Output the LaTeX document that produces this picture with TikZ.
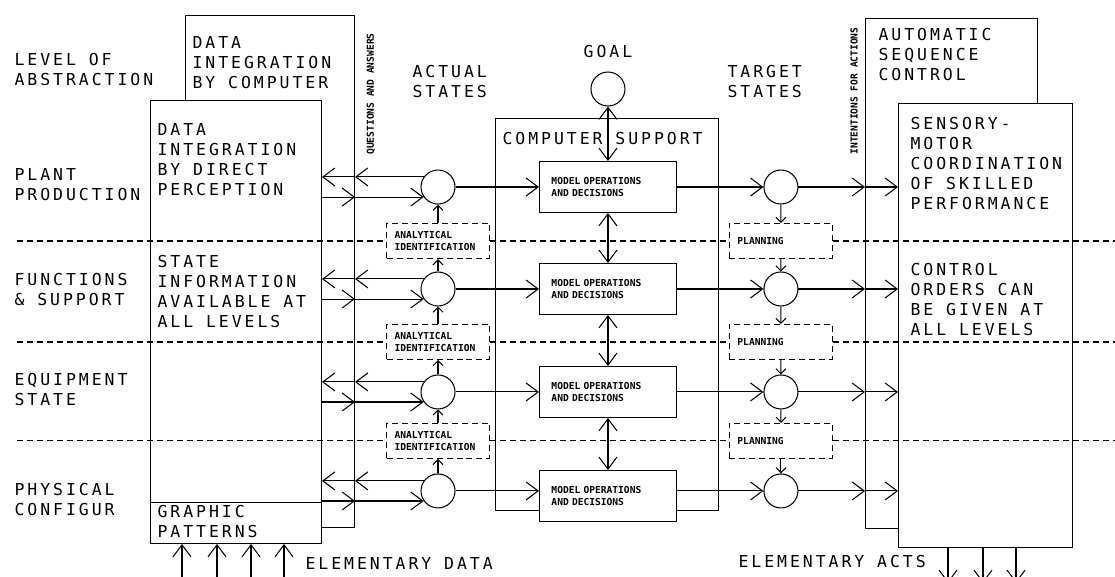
\documentclass[tikz,border=0pt]{standalone}
\usepackage{fontspec}
\usepackage{tikz}
\usetikzlibrary{arrows.meta,positioning}
\newfontfamily\plotfont[LetterSpace=18]{DejaVu Sans Mono}
\newfontfamily\tinyfont{DejaVu Sans Mono}
\newcommand\bigtxt{\plotfont\fontsize{9.37pt}{11.38pt}\selectfont}
\newcommand\smalltxt{\tinyfont\bfseries\fontsize{5.46pt}{6.5pt}\selectfont}
\tikzset{
bigbox/.style = {draw, rectangle, anchor=north west, inner sep=0pt},
statenode/.style = {draw, fill=white, circle, minimum size=0.68cm, inner sep=0pt},
model/.style = {draw, fill=white, rectangle, minimum height=1.02cm, text width=2.26cm, inner xsep=0.24cm, align=left, font=\smalltxt},
aux/.style = {draw, fill=white, rectangle, levelline, minimum height=0.7cm, text width=1.74cm, inner xsep=0.16cm, align=left, font=\smalltxt},
txt/.style = {anchor=north west, inner sep=0pt, align=left, font=\bigtxt},
levelline/.style = {dash pattern=on 0.12cm off 0.08cm},
smallarrow/.style = {-{Straight Barb[length=0.1cm,width=0.2cm]}}
}

\begin{document}
\begin{tikzpicture}[auto, x=0.02cm, y=0.02cm, >={Straight Barb[length=0.24cm,width=0.36cm]}, line width=0.6pt]
  \useasboundingbox (0,0) rectangle (1115,576);
  \clip (0,0) rectangle (1115,576);

  % big frames
  \node [bigbox, minimum width=3.38cm, minimum height=10.24cm]             (comp)  at (185,561) {};
  \node [bigbox, fill=white, minimum width=3.42cm, minimum height=8.86cm]  (perc)  at (150,476) {};
  \node [bigbox, anchor=south west, minimum width=3.42cm, minimum height=0.82cm] (gpat) at (perc.south west) {};
  \node [bigbox, minimum width=3.44cm, minimum height=10.2cm]              (asc)   at (865,558) {};
  \node [bigbox, fill=white, minimum width=3.48cm, minimum height=8.88cm]  (sens)  at (898,473) {};
  \node [bigbox, minimum width=4.46cm, minimum height=7.84cm]              (csup)  at (495,458) {};

  % actual states
  \node [statenode]                                  (act1) at (438,389) {};
  \node [aux, below of=act1, node distance=1.08cm]   (ana1) {ANALYTICAL\\IDENTIFICATION};
  \node [statenode, below of=ana1, node distance=0.96cm] (act2) {};
  \node [aux, below of=act2, node distance=1.06cm]   (ana2) {ANALYTICAL\\IDENTIFICATION};
  \node [statenode, below of=ana2, node distance=1cm]    (act3) {};
  \node [aux, below of=act3, node distance=0.98cm]   (ana3) {ANALYTICAL\\IDENTIFICATION};
  \node [statenode, below of=ana3, node distance=1cm]    (act4) {};

  % computer support
  \node [model, right of=act1, node distance=3.4cm]  (mod1) {MODEL OPERATIONS\\AND DECISIONS};
  \node [model, right of=act2, node distance=3.4cm]  (mod2) {MODEL OPERATIONS\\AND DECISIONS};
  \node [model, right of=act3, node distance=3.4cm]  (mod3) {MODEL OPERATIONS\\AND DECISIONS};
  \node [model, right of=act4, node distance=3.4cm, yshift=-0.1cm] (mod4) {MODEL OPERATIONS\\AND DECISIONS};
  \node [statenode, above of=mod1, node distance=1.96cm] (goal) {};
  \node [above of=goal, node distance=0.76cm, font=\bigtxt] (goaltxt) {GOAL};

  % target states
  \node [statenode, right of=mod1, node distance=3.46cm] (tgt1) {};
  \node [statenode, right of=mod2, node distance=3.46cm] (tgt2) {};
  \node [statenode, right of=mod3, node distance=3.46cm] (tgt3) {};
  \node [statenode, right of=act4, node distance=6.86cm] (tgt4) {};
  \node [aux, right of=ana1, node distance=6.86cm]   (pln1) {PLANNING};
  \node [aux, right of=ana2, node distance=6.86cm]   (pln2) {PLANNING};
  \node [aux, right of=ana3, node distance=6.86cm]   (pln3) {PLANNING};

  % texts
  \node [txt] (lvltxt)   at (14,523)  {LEVEL OF\\ABSTRACTION};
  \node [txt] (planttxt) at (14,408)  {PLANT\\PRODUCTION};
  \node [txt] (functxt)  at (14,303)  {FUNCTIONS\\\& SUPPORT};
  \node [txt] (equiptxt) at (14,203)  {EQUIPMENT\\STATE};
  \node [txt] (phystxt)  at (14,93)   {PHYSICAL\\CONFIGUR};
  \node [txt] (comptxt)  at (192,540) {DATA\\INTEGRATION\\BY COMPUTER};
  \node [txt] (perctxt)  at (157,453) {DATA\\INTEGRATION\\BY DIRECT\\PERCEPTION};
  \node [txt] (infotxt)  at (157,321) {STATE\\INFORMATION\\AVAILABLE AT\\ALL LEVELS};
  \node [txt] (gpattxt)  at (157,71)  {GRAPHIC\\PATTERNS};
  \node [txt] (eldata)   at (305,19)  {ELEMENTARY DATA};
  \node [txt] (acttxt)   at (412,511) {ACTUAL\\STATES};
  \node [txt] (csuptxt)  at (502,444) {COMPUTER SUPPORT};
  \node [txt] (tgttxt)   at (727,511) {TARGET\\STATES};
  \node [txt] (asctxt)   at (878,548) {AUTOMATIC\\SEQUENCE\\CONTROL};
  \node [txt] (senstxt)  at (910,459) {SENSORY-\\MOTOR\\COORDINATION\\OF SKILLED\\PERFORMANCE};
  \node [txt] (ctrltxt)  at (910,313) {CONTROL\\ORDERS CAN\\BE GIVEN AT\\ALL LEVELS};
  \node [txt] (elacts)   at (738,21)  {ELEMENTARY ACTS};
  \node [rotate=90, font=\smalltxt] (qatxt)  at (371,482) {QUESTIONS AND ANSWERS};
  \node [rotate=90, font=\smalltxt] (inttxt) at (854,485) {INTENTIONS FOR ACTIONS};

  % level lines
  \coordinate (lft) at (17,0);
  \coordinate (rgt) at (1115,0);
  \draw [levelline] (lft |- ana1) -- (ana1);
  \draw [levelline] (ana1) -- (pln1);
  \draw [levelline] (pln1) -- (rgt |- pln1);
  \draw [levelline] (lft |- ana2) -- (ana2);
  \draw [levelline] (ana2) -- (pln2);
  \draw [levelline] (pln2) -- (rgt |- pln2);
  \draw [levelline] (lft |- ana3) -- (ana3);
  \draw [levelline] (ana3) -- (pln3);
  \draw [levelline] (pln3) -- (rgt |- pln3);

  % questions and answers
  \draw [->] (act1.145) -- (comp.east |- act1.145);
  \draw [->] (comp.east |- act1.145) -- (perc.east |- act1.145);
  \draw [->] (perc.east |- act1.215) -- (comp.east |- act1.215);
  \draw [->] (comp.east |- act1.215) -- (act1.215);
  \draw [->] (act2.145) -- (comp.east |- act2.145);
  \draw [->] (comp.east |- act2.145) -- (perc.east |- act2.145);
  \draw [->] (perc.east |- act2.215) -- (comp.east |- act2.215);
  \draw [->] (comp.east |- act2.215) -- (act2.215);
  \draw [->] (act3.145) -- (comp.east |- act3.145);
  \draw [->] (comp.east |- act3.145) -- (perc.east |- act3.145);
  \draw [->] (perc.east |- act3.215) -- (comp.east |- act3.215);
  \draw [->] (comp.east |- act3.215) -- (act3.215);
  \draw [->] (act4.145) -- (comp.east |- act4.145);
  \draw [->] (comp.east |- act4.145) -- (perc.east |- act4.145);
  \draw [->] (perc.east |- act4.215) -- (comp.east |- act4.215);
  \draw [->] (comp.east |- act4.215) -- (act4.215);

  % states to decisions to actions
  \draw [->] (act1) -- (mod1);
  \draw [->] (act2) -- (mod2);
  \draw [->] (act3) -- (mod3);
  \draw [->] (act4) -- (act4 -| mod4.west);
  \draw [->] (mod1) -- (tgt1);
  \draw [->] (mod2) -- (tgt2);
  \draw [->] (mod3) -- (tgt3);
  \draw [->] (tgt4 -| mod4.east) -- (tgt4);
  \draw [->] (tgt1) -- (asc.west |- tgt1);
  \draw [->] (asc.west |- tgt1) -- (sens.west |- tgt1);
  \draw [->] (tgt2) -- (asc.west |- tgt2);
  \draw [->] (asc.west |- tgt2) -- (sens.west |- tgt2);
  \draw [->] (tgt3) -- (asc.west |- tgt3);
  \draw [->] (asc.west |- tgt3) -- (sens.west |- tgt3);
  \draw [->] (tgt4) -- (asc.west |- tgt4);
  \draw [->] (asc.west |- tgt4) -- (sens.west |- tgt4);
  \draw [<->] (goal) -- (mod1);
  \draw [<->] (mod1) -- (mod2);
  \draw [<->] (mod2) -- (mod3);
  \draw [<->] (mod3) -- (mod4);

  % identification and planning
  \draw [smallarrow] (ana1) -- (act1);
  \draw [smallarrow] (act2) -- (ana1);
  \draw [smallarrow] (ana2) -- (act2);
  \draw [smallarrow] (act3) -- (ana2);
  \draw [smallarrow] (ana3) -- (act3);
  \draw [smallarrow] (act4) -- (ana3);
  \draw [smallarrow] (tgt1) -- (pln1);
  \draw [smallarrow] (pln1) -- (tgt2);
  \draw [smallarrow] (tgt2) -- (pln2);
  \draw [smallarrow] (pln2) -- (tgt3);
  \draw [smallarrow] (tgt3) -- (pln3);
  \draw [smallarrow] (pln3) -- (tgt4);

  % elementary data and acts
  \coordinate (ed1) at (182,-10);
  \coordinate (ed2) at (217,-10);
  \coordinate (ed3) at (251,-10);
  \coordinate (ed4) at (284,-10);
  \draw [->] (ed1) -- (ed1 |- perc.south);
  \draw [->] (ed2) -- (ed2 |- perc.south);
  \draw [->] (ed3) -- (ed3 |- perc.south);
  \draw [->] (ed4) -- (ed4 |- perc.south);
  \coordinate (ea1) at (948,-7);
  \coordinate (ea2) at (983,-7);
  \coordinate (ea3) at (1016,-7);
  \draw [->] (ea1 |- sens.south) -- (ea1);
  \draw [->] (ea2 |- sens.south) -- (ea2);
  \draw [->] (ea3 |- sens.south) -- (ea3);
\end{tikzpicture}
\end{document}
